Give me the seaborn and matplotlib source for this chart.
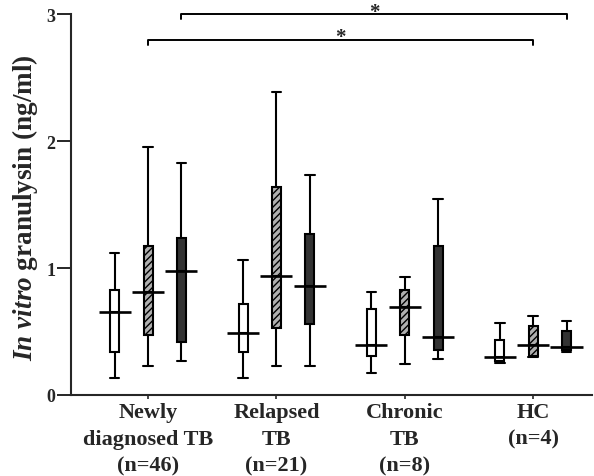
import matplotlib
matplotlib.use("Agg")
import matplotlib.pyplot as plt
import seaborn as sns
import pandas as pd
import numpy as np
from matplotlib.colors import to_rgba

# ---- data ----
categories = ["Newly\ndiagnosed TB\n(n=46)", "Relapsed\nTB\n(n=21)",
              "Chronic\nTB\n(n=8)", "HC\n(n=4)"]
conditions = ["Condition 1", "Condition 2", "Condition 3"]

# per condition: whisker low, Q1, median, Q3, whisker high (one per category)
c1_low = [0.13, 0.13, 0.17, 0.25]
c1_q1 = [0.34, 0.34, 0.31, 0.27]
c1_med = [0.65, 0.49, 0.39, 0.30]
c1_q3 = [0.83, 0.72, 0.68, 0.43]
c1_high = [1.12, 1.06, 0.81, 0.57]

c2_low = [0.23, 0.23, 0.24, 0.30]
c2_q1 = [0.47, 0.53, 0.47, 0.31]
c2_med = [0.81, 0.94, 0.69, 0.39]
c2_q3 = [1.17, 1.64, 0.83, 0.54]
c2_high = [1.95, 2.39, 0.93, 0.62]

c3_low = [0.27, 0.23, 0.28, 0.34]
c3_q1 = [0.42, 0.56, 0.35, 0.35]
c3_med = [0.98, 0.86, 0.46, 0.38]
c3_q3 = [1.24, 1.27, 1.17, 0.50]
c3_high = [1.83, 1.73, 1.54, 0.58]

yticks = [0, 1, 2, 3]
sig_star = "*"

stats = {
    conditions[0]: (c1_low, c1_q1, c1_med, c1_q3, c1_high),
    conditions[1]: (c2_low, c2_q1, c2_med, c2_q3, c2_high),
    conditions[2]: (c3_low, c3_q1, c3_med, c3_q3, c3_high),
}

rows = []
for cond, arrs in stats.items():
    for i, cat in enumerate(categories):
        for arr in arrs:
            rows.append({"group": cat, "condition": cond, "value": arr[i]})
df = pd.DataFrame(rows)

# ---- style ----
sns.set_style("ticks")
plt.rcParams["font.family"] = ["Liberation Serif", "DejaVu Serif"]
plt.rcParams["mathtext.fontset"] = "custom"
plt.rcParams["mathtext.rm"] = "Liberation Serif:bold"
plt.rcParams["mathtext.it"] = "Liberation Serif:italic:bold"
plt.rcParams["mathtext.bf"] = "Liberation Serif:bold"
plt.rcParams["mathtext.bfit"] = "Liberation Serif:italic:bold"

fig = plt.figure(figsize=(5.94, 4.77), dpi=100)
ax = fig.add_axes([0.1195, 0.17, 0.8775, 0.83])

palette = ["white", "#b0b0b0", "#333333"]
width = 0.78
sns.boxplot(data=df, x="group", y="value", hue="condition",
            order=categories, hue_order=conditions, palette=palette,
            width=width, gap=0.73, whis=(0, 100), linewidth=1.5,
            linecolor="black", fliersize=0, legend=False,
            capwidths=0.075, ax=ax)

# hatch the middle condition boxes
for p in ax.patches:
    fc = p.get_facecolor()
    if np.allclose(fc[:3], to_rgba(palette[1])[:3], atol=0.02):
        p.set_hatch("/////")

# wide median bars
n_h = len(conditions)
slot = width / n_h
offsets = [(-width / 2 + slot / 2 + k * slot) for k in range(n_h)]
for k, cond in enumerate(conditions):
    med = stats[cond][2]
    xs = np.arange(len(categories)) + offsets[k]
    ax.hlines(med, xs - 0.125, xs + 0.125, colors="black", lw=1.9, zorder=5)

# significance brackets
def bracket(x1, x2, y, h=0.04):
    ax.plot([x1, x1, x2, x2], [y - h, y, y, y - h], color="black", lw=1.4,
            clip_on=False)
    ax.text((x1 + x2) / 2, y + 0.02, sig_star, ha="center", va="center",
            fontsize=15, fontweight="bold", clip_on=False)

bracket(0 + offsets[2], 3 + offsets[2], 3.0)
bracket(0 + offsets[1], 3 + offsets[1], 2.8)

ax.set_xlim(-0.6, 3.46)
ax.set_ylim(0, 3.12)
ax.set_yticks(yticks)
ax.set_yticklabels([str(t) for t in yticks], fontsize=13, fontweight="bold")
ax.set_xticks(range(len(categories)))
ax.set_xticklabels(categories, fontsize=16, fontweight="bold", linespacing=1.45)
ax.tick_params(axis="y", length=10, width=1.4, pad=1)
ax.tick_params(axis="x", length=3, width=1.2, pad=2)
ax.set_xlabel("")
ax.set_ylabel(r"$\mathbfit{In\ vitro}$ granulysin (ng/ml)", fontsize=19.5,
              fontweight="bold")
ax.yaxis.set_label_coords(-0.06, 0.475)

for s in ["top", "right"]:
    ax.spines[s].set_visible(False)
ax.spines["left"].set_bounds(0, 3)
ax.spines["left"].set_linewidth(1.5)
ax.spines["bottom"].set_linewidth(1.5)

fig.savefig("out.png", dpi=100)
